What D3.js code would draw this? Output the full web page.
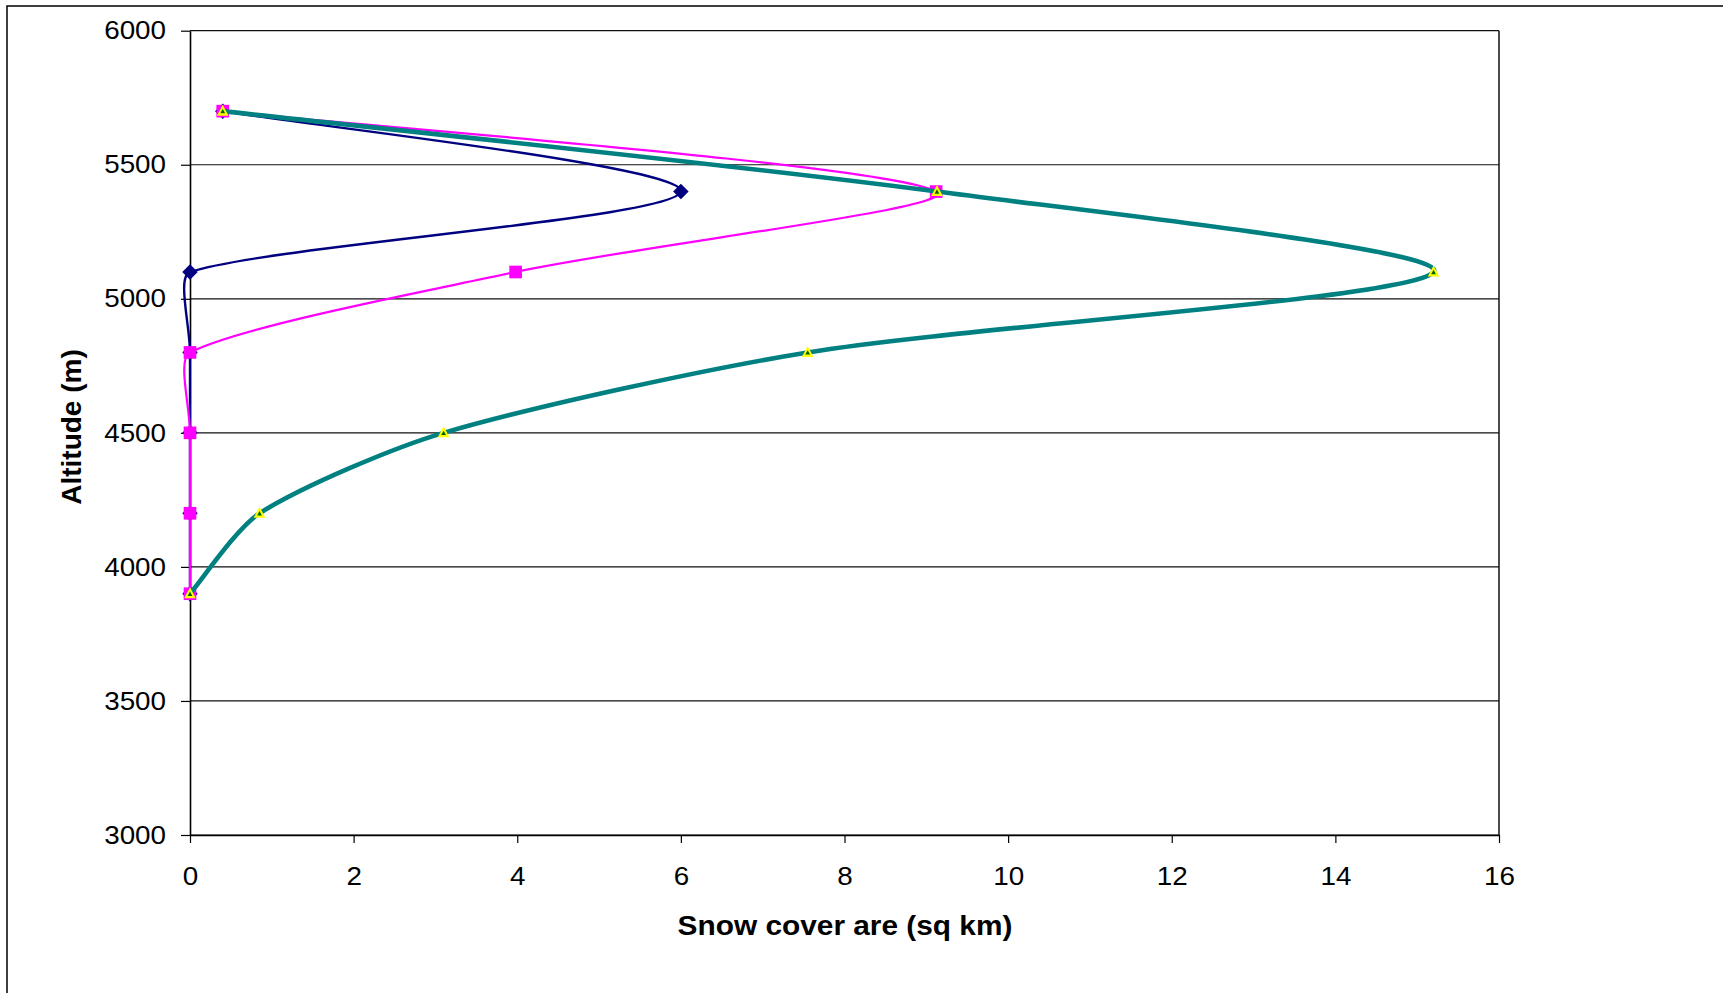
<!DOCTYPE html>
<html>
<head>
<meta charset="utf-8">
<script src="https://cdn.jsdelivr.net/npm/d3@7"></script>
<style>
  body { margin: 0; background: #fff; }
  svg { display: block; font-family: "Liberation Sans", Arial, sans-serif; }
</style>
</head>
<body>
<svg id="chart" width="1723" height="993"></svg>
<script>
// altitude bands (m) and snow cover area (sq km) for each series
const altitudes = [3900, 4200, 4500, 4800, 5100, 5400, 5700];
const navyArea = [0, 0, 0, 0, 0, 6.0, 0.4];
const magentaArea = [0, 0, 0, 0, 3.98, 9.12, 0.4];
const tealArea = [0, 0.85, 3.1, 7.55, 15.2, 9.13, 0.4];

const xTicks = [0, 2, 4, 6, 8, 10, 12, 14, 16];
const yTicks = [3000, 3500, 4000, 4500, 5000, 5500, 6000];

const xTitle = "Snow cover are (sq km)";
const yTitle = "Altitude (m)";

const svg = d3.select("#chart");
const plot = { left: 190, right: 1499, top: 30.7, bottom: 835 };

const x = d3.scaleLinear().domain([0, 16]).range([plot.left, plot.right]);
const y = d3.scaleLinear().domain([3000, 6000]).range([plot.bottom, plot.top]);

// the original chart is stretched a little sideways, so widen horizontal text
function stretch(sel, k) {
    sel.each(function() {
        var w = this.getComputedTextLength();
        d3.select(this).attr("textLength", w * k).attr("lengthAdjust", "spacingAndGlyphs");
    });
}

// bezier smoothing in the spreadsheet style: 1/6 of the neighbour chord,
// shortened when the next segment is much longer than this one
function dist(a, b) { return Math.hypot(a[0] - b[0], a[1] - b[1]); }
function smoothPath(pts) {
    var p = d3.path(), n = pts.length;
    p.moveTo(pts[0][0], pts[0][1]);
    for (var i = 0; i < n - 1; i++) {
        var p0 = pts[Math.max(i - 1, 0)], p1 = pts[i], p2 = pts[i + 1], p3 = pts[Math.min(i + 2, n - 1)];
        var d01 = dist(p0, p1), d12 = dist(p1, p2), d23 = dist(p2, p3);
        var f1 = d01 > 0 ? Math.min(1, d12 / d01) / 6 : 1 / 6;
        var f2 = d23 > 0 ? Math.min(1, d12 / d23) / 6 : 1 / 6;
        p.bezierCurveTo(
            p1[0] + f1 * (p2[0] - p0[0]), p1[1] + f1 * (p2[1] - p0[1]),
            p2[0] - f2 * (p3[0] - p1[0]), p2[1] - f2 * (p3[1] - p1[1]),
            p2[0], p2[1]);
    }
    return p.toString();
}

// outer chart border
svg.append("rect")
    .attr("x", 7).attr("y", 6)
    .attr("width", 1800).attr("height", 1100)
    .attr("fill", "none").attr("stroke", "#000").attr("stroke-width", 1.5);

// grid lines
svg.append("g")
    .selectAll("line")
    .data(yTicks)
    .enter()
    .append("line")
    .attr("x1", plot.left).attr("x2", plot.right)
    .attr("y1", d => y(d)).attr("y2", d => y(d))
    .attr("stroke", "#111").attr("stroke-width", 1.2);

// right border of plot area
svg.append("line")
    .attr("x1", plot.right).attr("x2", plot.right)
    .attr("y1", plot.top).attr("y2", plot.bottom)
    .attr("stroke", "#111").attr("stroke-width", 1.5);

const yAxis = svg.append("g")
    .attr("transform", "translate(" + plot.left + ",0)")
    .call(d3.axisLeft(y).tickValues(yTicks).tickFormat(d3.format("d")).tickSize(9).tickPadding(15).tickSizeOuter(0));

const xAxis = svg.append("g")
    .attr("transform", "translate(0," + plot.bottom + ")")
    .call(d3.axisBottom(x).tickValues(xTicks).tickFormat(d3.format("d")).tickSize(8).tickPadding(24).tickSizeOuter(0));

[yAxis, xAxis].forEach(function(a) {
    a.select(".domain").attr("stroke", "#000").attr("stroke-width", 1.6);
    a.selectAll(".tick line").attr("stroke", "#000").attr("stroke-width", 1.2);
    a.selectAll(".tick text")
        .attr("fill", "#000")
        .style("font-size", "25.5px")
        .style("font-family", "'Liberation Sans', Arial, sans-serif");
});
stretch(yAxis.selectAll(".tick text"), 1.09);
stretch(xAxis.selectAll(".tick text"), 1.09);

// axis titles
svg.append("text")
    .attr("x", 845).attr("y", 935)
    .attr("text-anchor", "middle")
    .style("font-size", "28px").style("font-weight", "bold")
    .text(xTitle)
    .call(stretch, 1.065);

svg.append("text")
    .attr("transform", "translate(81,427) rotate(-90)")
    .attr("text-anchor", "middle")
    .style("font-size", "28px").style("font-weight", "bold")
    .text(yTitle);

function rows(values) {
    return altitudes.map((a, i) => ({ alt: a, area: values[i] }));
}

const series = [
    { name: "navy", values: navyArea, color: "#000080", width: 2.4 },
    { name: "magenta", values: magentaArea, color: "#ff00ff", width: 2.2 },
    { name: "teal", values: tealArea, color: "#008080", width: 4.6 }
];

series.forEach(function(s) {
    const g = svg.append("g").attr("class", "series-" + s.name);
    const pts = rows(s.values);

    g.append("path")
        .datum(pts)
        .attr("d", d => smoothPath(d.map(p => [x(p.area), y(p.alt)])))
        .attr("fill", "none")
        .attr("stroke", s.color)
        .attr("stroke-width", s.width)
        .attr("stroke-linejoin", "round");

    const m = g.selectAll("g.marker")
        .data(pts)
        .enter()
        .append("g")
        .attr("class", "marker")
        .attr("transform", d => "translate(" + x(d.area) + "," + y(d.alt) + ")");

    if (s.name == "navy") {
        m.append("path")
            .attr("d", d3.symbol(d3.symbolSquare, 120))
            .attr("transform", "rotate(45)")
            .attr("fill", s.color);
    } else if (s.name == "magenta") {
        m.append("path")
            .attr("d", d3.symbol(d3.symbolSquare, 160))
            .attr("fill", s.color);
    } else {
        m.append("path")
            .attr("d", "M0,-6.5L5.8,4.5L-5.8,4.5Z")
            .attr("fill", "#ffff00");
        m.append("path")
            .attr("d", "M0,-2.2L2.4,2.2L-2.4,2.2Z")
            .attr("fill", "#006400");
    }
});
</script>
</body>
</html>
